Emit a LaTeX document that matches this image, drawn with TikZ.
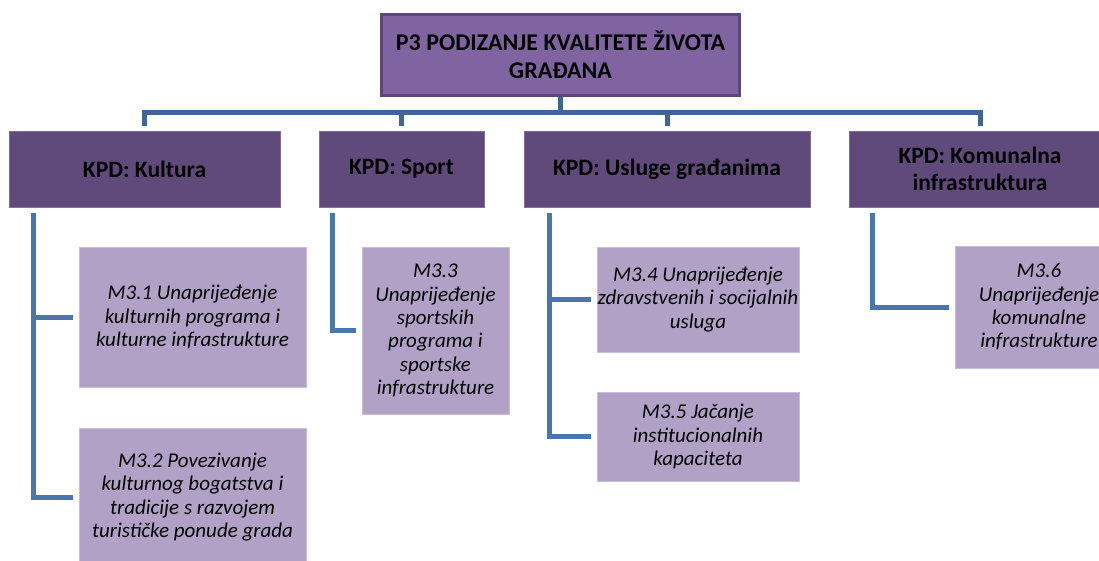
\documentclass[tikz,border=0pt]{standalone}
\usepackage{fontspec}
\setmainfont{Carlito}
\usepackage{tikz}

\xdefinecolor{vrh}{RGB}{128, 100, 162}
\xdefinecolor{vrhrub}{RGB}{92, 71, 118}
\xdefinecolor{kpd}{RGB}{96, 74, 123}
\xdefinecolor{mjera}{RGB}{178, 161, 199}
\xdefinecolor{busline}{RGB}{64, 102, 152}
\xdefinecolor{subline}{RGB}{74, 118, 174}

\begin{document}
\begin{tikzpicture}[x=1pt, y=-1pt,
        vrhbox/.style={rectangle, draw=vrhrub, line width=3pt, fill=vrh, align=center,
            font=\fontsize{24}{28}\selectfont\bfseries},
        kpdbox/.style={rectangle, draw=kpd!80!white, line width=0.6pt, fill=kpd, align=center,
            minimum height=76pt, font=\fontsize{23.5}{27}\selectfont\bfseries},
        mjerabox/.style={rectangle, draw=mjera!70!white, line width=0.6pt, fill=mjera, align=center,
            inner xsep=0pt, font=\fontsize{21}{23.3}\selectfont\itshape},
        bus/.style={draw=busline, line width=5pt},
        grana/.style={draw=subline, line width=5pt}]
            \useasboundingbox (0,0) rectangle (1099,560);
            \clip (0,0) rectangle (1099,560);

            % Draw the main box at the top
            \node[vrhbox, minimum width=358pt, minimum height=81pt] (P3) at (560.5, 55) {P3 PODIZANJE KVALITETE ŽIVOTA\\GRAĐANA};

            % Draw the KPD boxes
            \node[kpdbox, minimum width=271pt] (Kultura) at (144.5, 169) {KPD: Kultura};
            \node[kpdbox, minimum width=165pt] (Sport) at (401.5, 169) {KPD: Sport};
            \node[kpdbox, minimum width=286pt] (Usluge) at (667, 169) {KPD: Usluge građanima};
            \node[kpdbox, minimum width=262pt] (Komunalna) at (980, 169) {KPD: Komunalna\\infrastruktura};

            % Draw the measure boxes
            \node[mjerabox, minimum width=227pt, minimum height=140pt] (M31) at (192.5, 317) {M3.1 Unaprijeđenje\\kulturnih programa i\\kulturne infrastrukture};
            \node[mjerabox, minimum width=227pt, minimum height=138pt] (M32) at (192.5, 497) {M3.2 Povezivanje\\kulturnog bogatstva i\\tradicije s razvojem\\turističke ponude grada};
            \node[mjerabox, minimum width=147pt, minimum height=167pt] (M33) at (435.5, 330.5) {M3.3\\Unaprijeđenje\\sportskih\\programa i\\sportske\\infrastrukture};
            \node[mjerabox, minimum width=202pt, minimum height=105pt] (M34) at (698, 299.5) {M3.4 Unaprijeđenje\\zdravstvenih i socijalnih\\usluga};
            \node[mjerabox, minimum width=202pt, minimum height=89pt] (M35) at (698, 436.5) {M3.5 Jačanje\\institucionalnih\\kapaciteta};
            \node[mjerabox, minimum width=168pt, minimum height=122pt] (M36) at (1039, 307) {M3.6\\Unaprijeđenje\\komunalne\\infrastrukture};

            % Connect the main box to the KPD boxes
            \foreach \kpd in {Kultura, Sport, Usluge, Komunalna} {
                    \draw[bus] (P3.south) -- ++(0,15) -| ([yshift=5pt]\kpd.north);
                }

            % Connect the KPD boxes to their measures
            \foreach \kpd/\mjera/\dx in {Kultura/M31/25, Kultura/M32/25, Sport/M33/14, Usluge/M34/26, Usluge/M35/26, Komunalna/M36/24} {
                    \draw[grana] ([shift={(\dx pt,-6pt)}]\kpd.south west) |- ([xshift=-6pt]\mjera.west);
                }

        \end{tikzpicture}
\end{document}
